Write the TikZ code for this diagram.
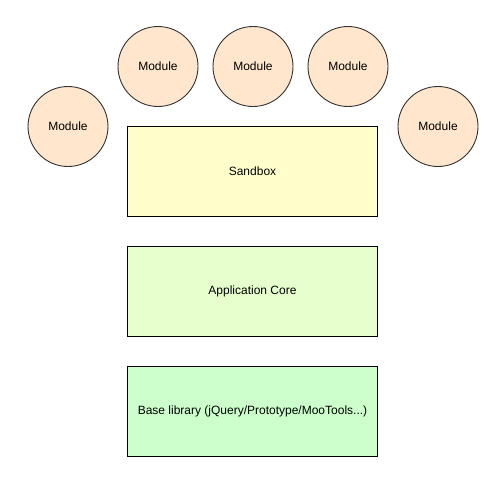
\documentclass[tikz,border=0pt]{standalone}
\usepackage{fontspec}
\setmainfont{Liberation Sans}
\begin{document}
\begin{tikzpicture}[x=1pt,y=-1pt,
  every node/.style={font=\fontsize{12}{14}\selectfont, text=black},
  module/.style={circle, draw=black!80, fill=peach, minimum size=80pt, inner sep=0pt, line width=0.9pt},
  layer/.style={rectangle, draw=black, minimum width=250pt, minimum height=90pt, inner sep=0pt, line width=0.9pt}]
\definecolor{peach}{HTML}{FFE6CC}
\definecolor{sandboxc}{HTML}{FFFFCC}
\definecolor{corec}{HTML}{E6FFCC}
\definecolor{basec}{HTML}{CCFFCC}
\useasboundingbox[fill=white] (0,0) rectangle (504,482);
\node[module] (m1) at (68,126.5) {Module};
\node[module] (m2) at (158,66.5) {Module};
\node[module] (m3) at (253,66.5) {Module};
\node[module] (m4) at (348,66.5) {Module};
\node[module] (m5) at (438,126.5) {Module};
\node[layer, fill=sandboxc] (sb) at (252.5,171.5) {Sandbox};
\node[layer, fill=corec] (core) at (252.5,291.5) {Application Core};
\node[layer, fill=basec] (base) at (252.5,411.5) {Base library (jQuery/Prototype/MooTools...)};
\end{tikzpicture}
\end{document}
